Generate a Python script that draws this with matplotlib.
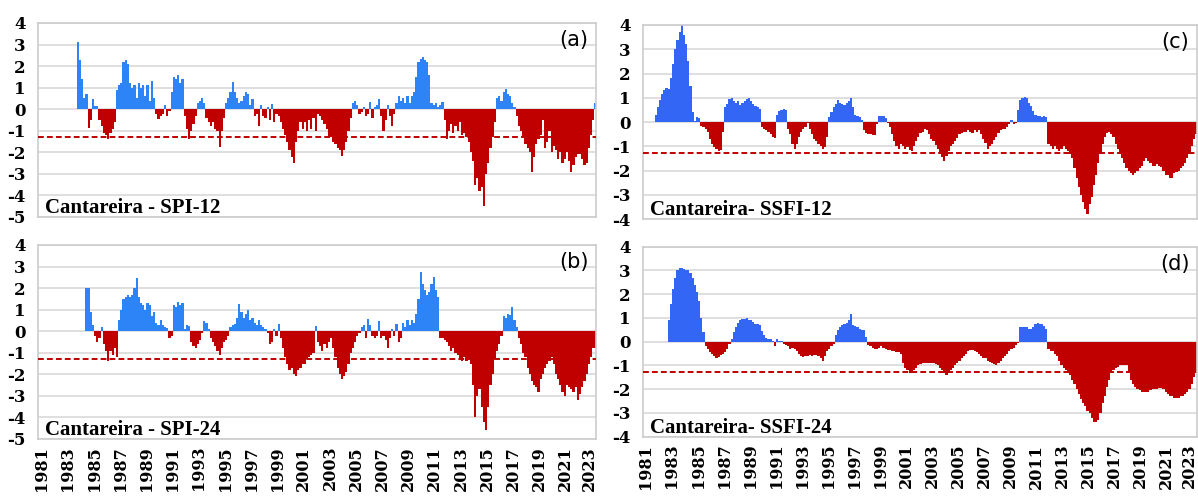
import matplotlib.pyplot as plt
from matplotlib.transforms import ScaledTranslation
import numpy as np

# bimonthly index values (6 per year), first value = start year
spi12_start = 1983 + 4 / 6.
spi12 = [
    3.1, 2.3,
    1.4, 0.5, 0.7, -0.85, -0.5, 0.45,
    0.15, 0.15, -0.5, -0.8, -1.1, -1.2,
    -1.4, -1.1, -0.9, -0.6, 0.9, 1.1,
    1.2, 2.2, 2.3, 2.1, 1.2, 1.0,
    1.1, 0.5, 1.2, 1.0, 1.1, 0.6,
    1.1, 0.4, 1.3, 0.5, -0.2, -0.45,
    -0.3, -0.2, 0.2, -0.3, -0.1, 0.8,
    1.5, 1.4, 1.6, 1.2, 1.4, -0.3,
    -0.9, -1.4, -1.0, -0.7, -0.3, 0.3,
    0.4, 0.5, 0.3, -0.4, -0.6, -0.8,
    -0.6, -0.9, -1.0, -1.75, -1.0, -0.4,
    0.3, 0.5, 0.8, 1.25, 0.8, 0.5,
    0.3, 0.4, 0.6, 0.8, 0.7, 0.2,
    0.45, -0.3, -0.2, -0.8, 0.2, -0.3,
    -0.4, 0.1, -0.5, 0.25, -0.6, -0.2,
    -0.3, -0.6, -0.9, -1.2, -1.5, -1.9,
    -2.2, -2.5, -1.5, -1.0, -0.6, -0.9,
    -0.6, -1.0, -0.5, -0.9, -0.4, -1.0,
    -0.2, -0.3, -0.5, -0.7, -0.9, -1.3,
    -1.3, -1.5, -1.6, -1.8, -1.9, -2.15,
    -1.9, -1.5, -1.0, -0.4, 0.3, 0.4,
    0.2, -0.2, -0.15, 0.1, -0.3, -0.2,
    0.35, -0.4, 0.1, 0.2, 0.45, -0.3,
    -1.0, -0.5, 0.2, -0.3, -0.8, -0.2,
    0.3, 0.6, 0.4, 0.5, 0.3, 0.6,
    0.3, 0.6, 0.8, 1.5, 2.2, 2.35,
    2.4, 2.3, 2.2, 1.6, 0.3, 0.2,
    0.3, 0.1, 0.2, 0.35, -0.5, -1.4,
    -1.0, -0.7, -1.1, -0.8, -1.0, -0.6,
    -1.2, -1.1, -1.3, -1.5, -2.0, -2.4,
    -3.5, -3.2, -3.8, -3.6, -4.5, -3.0,
    -2.5, -1.8, -1.3, -0.6, 0.5, 0.6,
    0.4, 0.8, 0.95, 0.7, 0.6, 0.3,
    0.1, -0.3, -0.8, -1.0, -1.3, -1.6,
    -1.8, -2.0, -2.9, -2.2, -1.6, -1.4,
    -1.2, -0.5, -1.8, -1.5, -1.0, -2.0,
    -1.7, -1.9, -2.3, -2.0, -2.5, -2.3,
    -2.0, -2.4, -2.9, -2.6, -2.2, -2.1,
    -2.1, -2.3, -2.6, -2.5, -1.8, -1.2,
    -0.5, 0.3,
]

spi24_start = 1984 + 2 / 6.
spi24 = [
    2.0, 2.0, 0.9, 0.3,
    -0.2, -0.5, -0.3, 0.2, -0.6, -0.9,
    -1.4, -0.9, -1.1, -0.8, -1.2, 0.5,
    1.0, 1.5, 1.6, 1.7, 1.6, 1.7,
    2.0, 2.45, 1.6, 1.3, 1.2, 1.0,
    1.3, 1.2, 0.7, 0.9, 0.4, 0.3,
    0.5, 0.3, 0.2, 0.15, -0.3, -0.2,
    1.2, 1.1, 1.35, 1.2, 1.3, 0.1,
    0.3, 0.25, -0.5, -0.7, -0.8, -0.6,
    -0.4, -0.1, 0.45, 0.4, 0.1, -0.3,
    -0.5, -0.7, -0.9, -1.1, -0.8, -0.5,
    -0.4, -0.2, 0.2, 0.3, 0.35, 0.6,
    1.25, 0.9, 0.6, 0.8, 1.0, 0.5,
    0.6, 0.4, 0.3, 0.5, 0.3, 0.2,
    0.1, -0.1, -0.6, -0.5, 0.1, -0.2,
    0.35, -0.3, -0.8, -1.2, -1.5, -1.8,
    -1.7, -2.0, -2.1, -1.8, -1.7, -1.5,
    -1.5, -1.3, -1.2, -1.1, -1.0, 0.25,
    -0.5, -0.7, -0.9, -0.6, -0.8, -0.5,
    -0.3, -0.8, -1.2, -1.7, -2.0, -2.2,
    -2.1, -1.9, -1.5, -1.0, -0.8, -0.5,
    -0.2, -0.1, 0.2, 0.3, -0.3, 0.55,
    0.3, -0.2, -0.3, -0.2, 0.45, -0.3,
    -0.2, -0.4, -0.8, -0.3, 0.1, -0.2,
    0.35, -0.5, -0.3, 0.4, 0.2, 0.5,
    0.3, 0.5, 0.4, 0.8, 1.5, 2.75,
    2.2, 1.9, 1.7, 1.8, 2.2, 2.5,
    1.9, 1.6, -0.3, -0.3, -0.4, -0.5,
    -0.7, -0.9, -0.8, -1.0, -1.1, -1.3,
    -1.4, -1.2, -1.4, -1.3, -1.5, -2.5,
    -4.0, -3.0, -2.7, -3.5, -4.2, -4.6,
    -3.5, -2.5, -2.0, -1.3, -0.9, -0.6,
    -0.2, 0.7, 0.6, 0.8, 0.75, 1.1,
    0.5, 0.2, -0.3, -0.6, -1.0, -1.2,
    -1.7, -2.0, -2.3, -2.5, -2.6, -2.8,
    -2.2, -2.0, -1.7, -1.5, -1.4, -1.2,
    -1.5, -2.0, -2.2, -2.5, -2.8, -3.0,
    -2.5, -2.6, -2.7, -2.8, -2.6, -3.2,
    -2.9, -2.6, -2.3, -2.0, -1.5, -1.2,
    -0.8, -0.8,
]

ssfi12_start = 1981 + 4 / 6.
ssfi12 = [
    0.3, 0.6,
    0.9, 1.15, 1.3, 1.4, 1.35, 1.8,
    2.4, 3.0, 3.4, 3.7, 4.0, 3.6,
    3.2, 2.5, 1.5, 0.4, 0.05, 0.2,
    0.15, -0.15, -0.2, -0.3, -0.4, -0.7,
    -0.9, -1.05, -1.1, -1.2, -1.15, -0.4,
    0.6, 0.75, 0.95, 1.0, 0.85, 0.8,
    0.85, 0.7, 0.8, 0.85, 0.95, 1.0,
    0.85, 0.75, 0.65, 0.6, 0.55, -0.2,
    -0.3, -0.35, -0.4, -0.5, -0.6, -0.65,
    0.3, 0.45, 0.5, 0.55, 0.5, -0.3,
    -0.5, -0.9, -1.1, -0.9, -0.6, -0.4,
    -0.3, -0.2, -0.05, -0.3, -0.5, -0.7,
    -0.8, -0.9, -1.0, -1.1, -1.05, -0.6,
    0.2, 0.4, 0.6, 0.75, 0.9, 0.8,
    0.75, 0.7, 0.8, 0.85, 1.0, 0.6,
    0.3, 0.25, 0.2, 0.1, -0.35, -0.45,
    -0.5, -0.5, -0.55, -0.55, -0.1, 0.25,
    0.25, 0.25, 0.15, -0.05, -0.2, -0.5,
    -0.8, -1.0, -1.1, -0.9, -1.0, -1.1,
    -1.05, -1.15, -1.2, -1.0, -0.8, -0.6,
    -0.45, -0.4, -0.3, -0.35, -0.5, -0.7,
    -0.8, -0.95, -1.1, -1.3, -1.45, -1.6,
    -1.4, -1.2, -1.0, -0.9, -0.8, -0.65,
    -0.5, -0.45, -0.4, -0.4, -0.35, -0.4,
    -0.45, -0.35, -0.4, -0.35, -0.5, -0.7,
    -0.85, -1.1, -1.0, -0.9, -0.75, -0.6,
    -0.45, -0.35, -0.3, -0.3, -0.2, -0.1,
    0.1, -0.1, -0.05, 0.5, 0.9, 1.0,
    1.05, 1.0, 0.8, 0.65, 0.45, 0.3,
    0.25, 0.25, 0.2, 0.25, 0.2, -0.9,
    -1.0, -1.1, -1.0, -1.1, -1.2, -1.1,
    -1.0, -1.1, -1.2, -1.3, -1.5, -1.9,
    -2.3, -2.7, -3.0, -3.3, -3.6, -3.8,
    -3.4, -3.1, -2.6, -2.2, -1.7, -1.3,
    -0.9, -0.6, -0.45, -0.4, -0.5, -0.6,
    -0.9, -1.1, -1.3, -1.5, -1.7, -1.9,
    -2.0, -2.1, -2.2, -2.1, -2.0, -1.9,
    -1.8, -1.6, -1.5, -1.6, -1.7, -1.8,
    -1.8, -1.75, -1.8, -1.85, -2.0, -2.2,
    -2.2, -2.3, -2.3, -2.1, -2.05, -2.0,
    -1.9, -1.8, -1.7, -1.5, -1.3, -1.0,
    -0.7, -0.5,
]

ssfi24_start = 1982 + 4 / 6.
ssfi24 = [
    0.9, 1.6,
    2.2, 2.7, 3.0, 3.1, 3.1, 3.05,
    3.0, 3.0, 2.9, 2.7, 2.4, 2.1,
    1.7, 1.0, 0.4, -0.2, -0.3, -0.45,
    -0.5, -0.6, -0.7, -0.65, -0.55, -0.5,
    -0.45, -0.3, -0.1, 0.1, 0.4, 0.6,
    0.8, 0.9, 0.95, 0.95, 1.0, 0.9,
    0.9, 0.85, 0.75, 0.75, 0.7, 0.45,
    0.3, 0.15, 0.1, 0.1, 0.05, -0.2,
    0.1, 0.05, 0.05, -0.1, -0.15, -0.2,
    -0.3, -0.25, -0.3, -0.4, -0.5, -0.6,
    -0.65, -0.6, -0.6, -0.55, -0.6, -0.55,
    -0.55, -0.6, -0.7, -0.8, -0.6, -0.4,
    -0.3, -0.2, -0.1, 0.3, 0.5, 0.6,
    0.7, 0.75, 0.8, 0.9, 1.15, 0.7,
    0.65, 0.6, 0.55, 0.5, 0.5, 0.2,
    -0.15, -0.2, -0.25, -0.3, -0.3, -0.25,
    -0.2, -0.25, -0.3, -0.35, -0.35, -0.4,
    -0.4, -0.45, -0.45, -0.5, -0.9, -1.1,
    -1.2, -1.3, -1.3, -1.2, -1.1, -1.0,
    -0.95, -0.9, -0.9, -0.9, -0.9, -0.9,
    -0.9, -0.95, -1.0, -1.1, -1.2, -1.3,
    -1.4, -1.3, -1.2, -1.1, -1.0, -0.9,
    -0.8, -0.7, -0.6, -0.5, -0.4, -0.35,
    -0.35, -0.4, -0.45, -0.5, -0.6, -0.7,
    -0.7, -0.8, -0.85, -0.9, -0.95, -1.0,
    -0.9, -0.8, -0.7, -0.6, -0.5, -0.4,
    -0.3, -0.25, -0.15, -0.05, 0.6, 0.6,
    0.6, 0.6, 0.55, 0.55, 0.6, 0.75,
    0.8, 0.75, 0.75, 0.65, 0.55, -0.3,
    -0.4, -0.4, -0.5, -0.6, -0.8, -1.0,
    -1.1, -1.2, -1.3, -1.4, -1.6, -1.8,
    -2.0, -2.2, -2.4, -2.6, -2.7, -2.9,
    -3.0, -3.2, -3.4, -3.4, -3.3, -3.0,
    -2.6, -2.3, -1.9, -1.6, -1.3, -1.2,
    -1.1, -1.05, -1.0, -1.0, -1.0, -1.0,
    -1.3, -1.6, -1.8, -1.9, -2.0, -2.05,
    -2.1, -2.1, -2.1, -2.1, -2.05, -2.0,
    -2.0, -2.0, -1.95, -1.95, -2.0, -2.1,
    -2.2, -2.3, -2.3, -2.35, -2.35, -2.35,
    -2.3, -2.3, -2.2, -2.1, -2.0, -1.8,
    -1.5, -1.3,
]

threshold = -1.28
year_ticks = list(range(1981, 2024, 2))

RED = '#c00000'
SERIF = 'Liberation Serif'
TICKFONT = 'DejaVu Serif'

panels = [
    # data, start, tag, title, blue, rect, ylim, bottom row, xlim
    (spi12, spi12_start, '(a)', 'Cantareira - SPI-12', '#2d84f7',
     [0.0317, 0.5643, 0.4658, 0.3896], (-5, 4), False, (1980.72, 2023.3)),
    (spi24, spi24_start, '(b)', 'Cantareira - SPI-24', '#2d84f7',
     [0.0317, 0.1185, 0.4658, 0.3896], (-5, 4), True, (1980.72, 2023.3)),
    (ssfi12, ssfi12_start, '(c)', 'Cantareira- SSFI-12', '#3366f5',
     [0.5367, 0.5602, 0.4624, 0.3896], (-4, 4), False, (1980.77, 2023.32)),
    (ssfi24, ssfi24_start, '(d)', 'Cantareira- SSFI-24', '#3366f5',
     [0.5367, 0.1231, 0.4624, 0.3815], (-4, 4), True, (1980.77, 2023.32)),
]

fig = plt.figure(figsize=(11.98, 4.98), dpi=100)

for vals, start, tag, title, blue, rect, ylim, bottom, xlim in panels:
    ax = fig.add_axes(rect)
    v = np.array(vals)
    x = start + (np.arange(len(v)) + 0.5) / 6.
    cols = [blue if val >= 0 else RED for val in v]
    ax.bar(x, v, width=1 / 6., color=cols, linewidth=0, zorder=2)
    ax.axhline(threshold, color=RED, ls=(0, (3, 1.6)), lw=1.4, zorder=3)

    ax.set_xlim(*xlim)
    ax.set_ylim(*ylim)
    ax.set_yticks(range(ylim[0], ylim[1] + 1))
    ax.set_yticklabels([str(t) for t in range(ylim[0], ylim[1] + 1)],
                       fontfamily=TICKFONT, fontweight='bold', fontsize=12)
    ax.yaxis.grid(True, color='#d9d9d9', lw=1.2, zorder=0)
    ax.set_axisbelow(True)
    ax.tick_params(axis='both', length=0)
    ax.tick_params(axis='y', pad=9)
    for s in ax.spines.values():
        s.set_color('#cccccc')
        s.set_linewidth(1.2)

    ax.set_xticks(year_ticks)
    if bottom:
        labels = ax.set_xticklabels([str(y) for y in year_ticks], rotation=90,
                                    fontfamily=TICKFONT, fontweight='bold',
                                    fontsize=11.5)
        ax.tick_params(axis='x', pad=5)
        # keep the last year label inside the figure
        last = labels[-1]
        last.set_transform(last.get_transform()
                           + ScaledTranslation(-3 / 100., 0, fig.dpi_scale_trans))
    else:
        ax.set_xticklabels([])

    ax.text(0.96, 0.91, tag, transform=ax.transAxes, ha='center', va='center',
            fontsize=15, fontfamily='DejaVu Sans')
    ax.text(0.013, 0.02, title, transform=ax.transAxes, ha='left', va='baseline',
            fontsize=15, fontfamily=SERIF, fontweight='bold')

fig.savefig('out.png', dpi=100)
